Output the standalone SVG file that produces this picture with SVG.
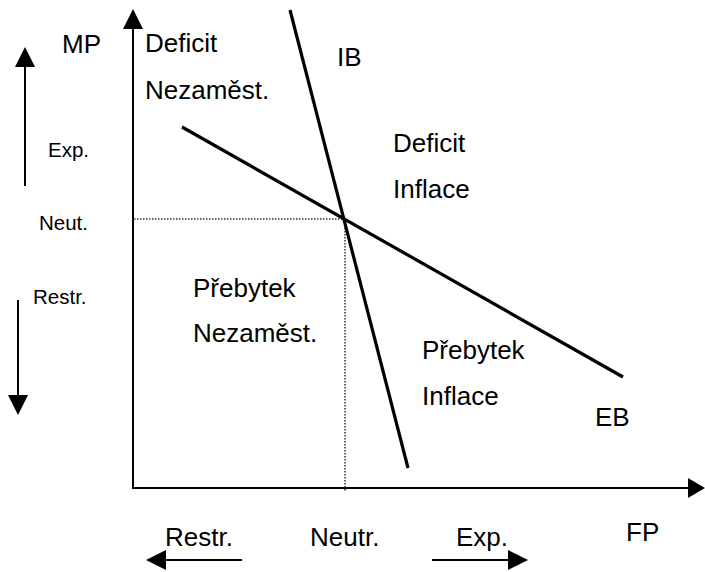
<svg xmlns="http://www.w3.org/2000/svg" width="705" height="572" viewBox="0 0 705 572">
  <style>
    text { font-family: "Liberation Sans", Arial, sans-serif; fill: #000; }
    .big { font-size: 26px; }
    .small { font-size: 20.5px; }
    .axis { stroke: #000; stroke-width: 2; fill: none; }
    .curve { stroke: #000; stroke-width: 3.2; fill: none; }
    .guide { stroke: #333; stroke-width: 1.5; stroke-dasharray: 1.5 1.5; fill: none; }
    .head { fill: #000; }
  </style>

  <g id="connectors">
    <!-- axes -->
    <line class="axis" x1="133" y1="489" x2="133" y2="26"/>
    <polygon class="head" points="133,9 123,29 143,29"/>
    <line class="axis" x1="132" y1="488" x2="690" y2="488"/>
    <polygon class="head" points="705,488 688,478 688,498"/>

    <!-- neutral guides -->
    <line class="guide" x1="134" y1="219" x2="345" y2="219"/>
    <line class="guide" x1="345" y1="219" x2="345" y2="491"/>

    <!-- balance lines -->
    <line class="curve" x1="290" y1="10" x2="408" y2="468"/>
    <line class="curve" x1="182" y1="127" x2="623" y2="377"/>

    <!-- direction arrows -->
    <line class="axis" x1="25" y1="186" x2="25" y2="64"/>
    <polygon class="head" points="25,47 15,67 35,67"/>
    <line class="axis" x1="18" y1="300" x2="18" y2="398"/>
    <polygon class="head" points="18,415 8,395 28,395"/>
    <line class="axis" x1="242" y1="560" x2="162" y2="560"/>
    <polygon class="head" points="146,560 166,550 166,570"/>
    <line class="axis" x1="432" y1="560" x2="512" y2="560"/>
    <polygon class="head" points="528,560 508,550 508,570"/>
  </g>

  <g id="axis-labels">
    <text class="big" x="62" y="53">MP</text>
    <text class="big" x="626" y="541">FP</text>
  </g>

  <g id="mp-scale">
    <text class="small" x="48" y="157">Exp.</text>
    <text class="small" x="39" y="230">Neut.</text>
    <text class="small" x="33" y="304">Restr.</text>
  </g>

  <g id="fp-scale">
    <text class="big" x="165" y="546">Restr.</text>
    <text class="big" x="310" y="546">Neutr.</text>
    <text class="big" x="456" y="546">Exp.</text>
  </g>

  <g id="line-labels">
    <text class="big" x="337" y="66">IB</text>
    <text class="big" x="595" y="426">EB</text>
  </g>

  <g id="zone-deficit-nezamest">
    <text class="big" x="145" y="52">Deficit</text>
    <text class="big" x="145" y="99">Nezaměst.</text>
  </g>

  <g id="zone-deficit-inflace">
    <text class="big" x="393" y="152">Deficit</text>
    <text class="big" x="393" y="198">Inflace</text>
  </g>

  <g id="zone-prebytek-nezamest">
    <text class="big" x="193" y="297">Přebytek</text>
    <text class="big" x="193" y="342">Nezaměst.</text>
  </g>

  <g id="zone-prebytek-inflace">
    <text class="big" x="422" y="359">Přebytek</text>
    <text class="big" x="422" y="405">Inflace</text>
  </g>
</svg>
